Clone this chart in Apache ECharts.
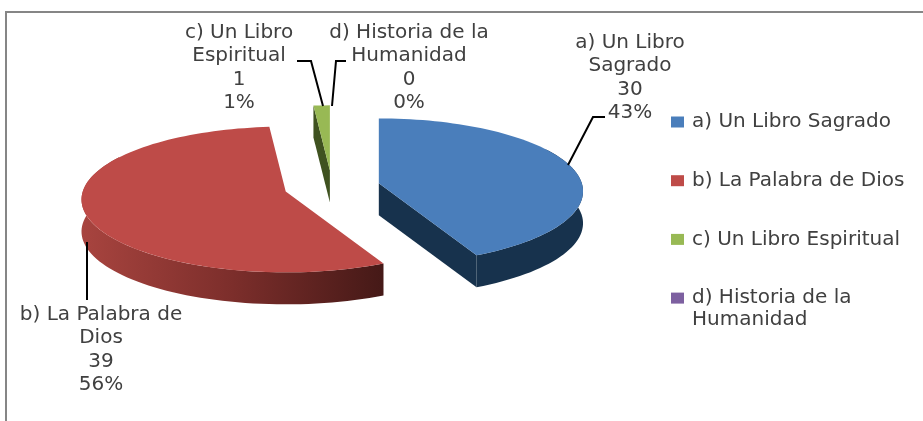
<!DOCTYPE html>
<html>
<head>
<meta charset="utf-8">
<style>
html, body { margin: 0; padding: 0; background: #fff; }
#main { width: 923px; height: 421px; }
</style>
<script src="https://cdn.jsdelivr.net/npm/echarts@6/dist/echarts.min.js"></script>
</head>
<body>
<div id="main"></div>
<script>
var categories = ['a) Un Libro Sagrado', 'b) La Palabra de Dios', 'c) Un Libro Espiritual', 'd) Historia de la Humanidad'];
var values = [30, 39, 1, 0];
var labelNames = ['a) Un Libro\nSagrado', 'b) La Palabra de\nDios', 'c) Un Libro\nEspiritual', 'd) Historia de la\nHumanidad'];

var colors = ['#4a7ebb', '#be4b48', '#98b954', '#7d60a0'];
var sideColors = ['#17324d', {
    type: 'linear', x: 0, y: 0, x2: 1, y2: 0,
    colorStops: [{ offset: 0, color: '#a8443f' }, { offset: 0.5, color: '#7c2e2b' }, { offset: 1, color: '#451917' }]
}, '#3f5220', '#3f3050'];
var font = '20px "DejaVu Sans"';
var textColor = '#404040';

// pie geometry, 3d look is made by hand since echarts pie has no depth
var cx = 332, cy = 187, rx = 203, ry = 72, depth = 32, explode = 48, persp = 0.11;
var total = values.reduce(function(a, b) { return a + b; }, 0);

var labelLayout = [
    { x: 630, y: 31, line: [[568, 165], [593, 117], [605, 117]] },
    { x: 101, y: 303, line: [[87, 242], [87, 300]] },
    { x: 239, y: 21, line: [[297, 61], [311, 61], [323, 106]] },
    { x: 409, y: 21, line: [[346, 61], [336, 61], [332, 106]] }
];

function project(deg, ox, oy) {
    var t = deg * Math.PI / 180;
    var u = Math.sin(t), v = -Math.cos(t);
    var w = 1 - persp * v;
    return [ox + rx * u / w, oy + ry * v / w];
}

function arc(from, to, ox, oy) {
    var pts = [];
    var n = Math.max(2, Math.ceil(Math.abs(to - from) / 2));
    for (var i = 0; i <= n; i++) {
        pts.push(project(from + (to - from) * i / n, ox, oy));
    }
    return pts;
}

function renderSlice(params, api) {
    var i = params.seriesIndex;
    var val = api.value(0), before = api.value(1);
    var start = before / total * 360;
    var end = (before + val) / total * 360;
    var mid = (start + end) / 2 * Math.PI / 180;
    var ox = cx + explode * Math.sin(mid);
    var oy = cy - explode * Math.cos(mid) * 0.35;
    var children = [];

    function addWall(deg) {
        var p = project(deg, ox, oy);
        children.push({
            type: 'polygon',
            shape: { points: [[ox, oy], p, [p[0], p[1] + depth], [ox, oy + depth]] },
            style: { fill: i == 1 ? '#451917' : sideColors[i] }
        });
    }

    if (val > 0) {
        if (start > 180 && start < 360) addWall(start);
        if (end > 0 && end < 180) addWall(end);
        // wider than the front half, the top face covers what is not visible
        var a = Math.max(start, 60), b = Math.min(end, 300);
        if (b > a) {
            var top = arc(a, b, ox, oy);
            var bottom = arc(b, a, ox, oy + depth);
            children.push({
                type: 'polygon',
                shape: { points: top.concat(bottom) },
                style: { fill: sideColors[i] }
            });
        }
        children.push({
            type: 'polygon',
            shape: { points: [[ox, oy]].concat(arc(start, end, ox, oy)) },
            style: { fill: colors[i] }
        });
    }

    var lay = labelLayout[i];
    children.push({
        type: 'polyline',
        shape: { points: lay.line },
        style: { stroke: '#000', lineWidth: 2, fill: null }
    });
    children.push({
        type: 'text',
        style: {
            x: lay.x,
            y: lay.y,
            text: labelNames[i] + '\n' + val + '\n' + Math.round(val / total * 100) + '%',
            font: font,
            fill: textColor,
            align: 'center',
            verticalAlign: 'top',
            lineHeight: 23.5
        }
    });
    return { type: 'group', children: children };
}

var series = [];
var before = 0;
categories.forEach(function(name, i) {
    series.push({
        name: name,
        type: 'custom',
        coordinateSystem: 'none',
        itemStyle: { color: colors[i] },
        renderItem: renderSlice,
        data: [[values[i], before]]
    });
    before += values[i];
});

var myChart = echarts.init(document.getElementById('main'));
myChart.setOption({
    animation: false,
    backgroundColor: '#fff',
    legend: {
        orient: 'vertical',
        left: 671,
        top: 112,
        padding: 0,
        itemWidth: 13,
        itemHeight: 11,
        itemGap: 38.7,
        icon: 'rect',
        data: categories,
        selectedMode: false,
        formatter: function(name) {
            return name.indexOf('Humanidad') > 0 ? 'd) Historia de la' : name;
        },
        textStyle: {
            color: textColor,
            fontFamily: 'DejaVu Sans',
            fontSize: 20,
            lineHeight: 20,
            padding: [0, 0, 0, 3]
        }
    },
    graphic: [
        {
            type: 'polyline',
            silent: true,
            shape: { points: [[6, 421], [6, 12], [923, 12]] },
            style: { stroke: '#868686', lineWidth: 2, fill: null }
        },
        {
            type: 'text',
            silent: true,
            style: { x: 692, y: 310, text: 'Humanidad', font: font, fill: textColor }
        }
    ],
    series: series
});
</script>
</body>
</html>
